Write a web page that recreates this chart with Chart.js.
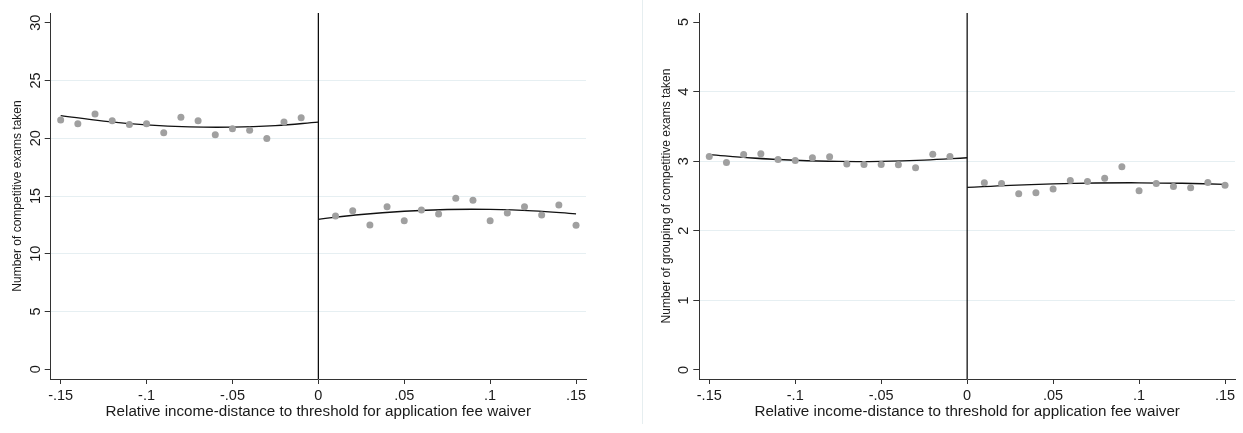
<!DOCTYPE html>
<html>
<head>
<meta charset="utf-8">
<script src="https://cdn.jsdelivr.net/npm/chart.js@4"></script>
<style>
  body { margin: 0; background: #fff; }
  #wrap { position: relative; width: 1243px; height: 433px; }
  canvas { position: absolute; top: 0; }
  #sep { position: absolute; left: 642px; top: 0; width: 1px; height: 424px; background: #e6eef0; }
</style>
</head>
<body>
<div id="wrap">
  <canvas id="exams" width="621" height="433" style="left:0"></canvas>
  <div id="sep"></div>
  <canvas id="groups" width="621" height="433" style="left:622px"></canvas>
</div>
<script>
// bins of relative income-distance (below / above the threshold)
const binsBelow = [-0.15, -0.14, -0.13, -0.12, -0.11, -0.10, -0.09, -0.08, -0.07, -0.06, -0.05, -0.04, -0.03, -0.02, -0.01];
const binsAbove = [0.01, 0.02, 0.03, 0.04, 0.05, 0.06, 0.07, 0.08, 0.09, 0.10, 0.11, 0.12, 0.13, 0.14, 0.15];
const fitXBelow = [-0.15, -0.125, -0.10, -0.075, -0.05, -0.025, 0];
const fitXAbove = [0, 0.025, 0.05, 0.075, 0.10, 0.125, 0.15];
const cutoff = 0;
const xTicks = [-0.15, -0.10, -0.05, 0, 0.05, 0.10, 0.15];

// left panel: number of competitive exams taken
const examsBelow = [21.58, 21.26, 22.10, 21.52, 21.18, 21.26, 20.48, 21.82, 21.52, 20.31, 20.83, 20.69, 19.97, 21.41, 21.78];
const examsAbove = [13.27, 13.73, 12.49, 14.07, 12.86, 13.79, 13.44, 14.80, 14.63, 12.86, 13.53, 14.07, 13.36, 14.22, 12.46];
const examsFitBelow = [21.96, 21.48, 21.15, 20.98, 20.96, 21.10, 21.39];
const examsFitAbove = [12.98, 13.40, 13.68, 13.83, 13.84, 13.72, 13.46];
const examsTicks = [0, 5, 10, 15, 20, 25, 30];

// right panel: number of grouping of competitive exams taken
const groupsBelow = [3.067, 2.98, 3.096, 3.106, 3.024, 3.01, 3.05, 3.063, 2.96, 2.953, 2.953, 2.948, 2.905, 3.10, 3.067];
const groupsAbove = [2.689, 2.68, 2.533, 2.547, 2.60, 2.723, 2.709, 2.756, 2.92, 2.576, 2.68, 2.637, 2.618, 2.694, 2.656];
const groupsFitBelow = [3.096, 3.046, 3.014, 2.997, 2.998, 3.016, 3.05];
const groupsFitAbove = [2.623, 2.654, 2.675, 2.687, 2.690, 2.683, 2.668];
const groupsTicks = [0, 1, 2, 3, 4, 5];

const xTitle = 'Relative income-distance to threshold for application fee waiver';
const FONT = '"Liberation Sans", Arial, sans-serif';
const pts = (xs, ys) => xs.map((x, i) => ({ x, y: ys[i] }));
const fmt = v => String(v).replace('0.', '.');

// cutoff line + rotated y tick labels (Stata style)
const stataBits = {
  id: 'stataBits',
  beforeDatasetsDraw(chart) {
    const { ctx, chartArea } = chart;
    const cx = chart.scales.x.getPixelForValue(cutoff);
    ctx.save();
    ctx.strokeStyle = '#000'; ctx.lineWidth = 1.2;
    ctx.beginPath(); ctx.moveTo(cx, chartArea.top); ctx.lineTo(cx, chartArea.bottom); ctx.stroke();
    ctx.restore();
  },
  afterDraw(chart) {
    const { ctx, chartArea } = chart;
    const y = chart.scales.y;
    ctx.save();
    ctx.fillStyle = '#1a1a1a'; ctx.font = '14.5px ' + FONT;
    ctx.textAlign = 'center'; ctx.textBaseline = 'alphabetic';
    y.ticks.forEach(t => {
      ctx.save();
      ctx.translate(chartArea.left - 11, y.getPixelForValue(t.value));
      ctx.rotate(-Math.PI / 2);
      ctx.fillText(fmt(t.value), 0, 0);
      ctx.restore();
    });
    ctx.restore();
  }
};

function buildPanel(id, p) {
  const yMax = p.yTicks[p.yTicks.length - 1];
  new Chart(document.getElementById(id), {
    data: { datasets: [
      { type: 'scatter', data: pts(binsBelow, p.below), backgroundColor: '#a0a0a0', borderWidth: 0, pointRadius: 3.5 },
      { type: 'scatter', data: pts(binsAbove, p.above), backgroundColor: '#a0a0a0', borderWidth: 0, pointRadius: 3.5 },
      { type: 'line', data: pts(fitXBelow, p.fitBelow), borderColor: '#111', borderWidth: 1.3, pointRadius: 0, tension: 0.4, fill: false },
      { type: 'line', data: pts(fitXAbove, p.fitAbove), borderColor: '#111', borderWidth: 1.3, pointRadius: 0, tension: 0.4, fill: false },
    ] },
    options: {
      responsive: false, animation: false, devicePixelRatio: 1,
      layout: { padding: { top: 13, right: p.padRight, left: 0, bottom: 0 } },
      plugins: { legend: { display: false }, tooltip: { enabled: false } },
      scales: {
        x: {
          type: 'linear', min: -0.1558, max: 0.1558,
          afterBuildTicks: s => { s.ticks = xTicks.map(v => ({ value: v })); },
          afterFit: s => { s.height = 54; },
          ticks: { callback: v => fmt(v), color: '#1a1a1a', font: { family: FONT, size: 14.5 }, padding: 3, maxRotation: 0 },
          grid: { drawOnChartArea: false, tickLength: 5, tickColor: '#333' },
          border: { color: '#333', width: 1 },
          title: { display: true, text: xTitle, color: '#1a1a1a', font: { family: FONT, size: 15.2 }, padding: { top: 0, bottom: 12.5 } }
        },
        y: {
          type: 'linear', min: p.yMin, max: p.yTop,
          afterBuildTicks: s => { s.ticks = p.yTicks.map(v => ({ value: v })); },
          afterFit: s => { s.width = p.yWidth; },
          ticks: { display: false },
          grid: {
            tickLength: 6, tickColor: '#333',
            color: c => (c.tick && (c.tick.value === 0 || c.tick.value === yMax)) ? 'rgba(0,0,0,0)' : '#e6eff2'
          },
          border: { color: '#333', width: 1 },
          title: { display: true, text: p.yTitle, color: '#1a1a1a', font: { family: FONT, size: 12 }, padding: { top: p.titlePad, bottom: 0 } }
        }
      }
    },
    plugins: [stataBits]
  });
}

buildPanel('exams', {
  below: examsBelow, above: examsAbove, fitBelow: examsFitBelow, fitAbove: examsFitAbove,
  yTicks: examsTicks, yMin: -0.84, yTop: 30.84, yTitle: 'Number of competitive exams taken',
  yWidth: 50.7, padRight: 35, titlePad: 10
});
buildPanel('groups', {
  below: groupsBelow, above: groupsAbove, fitBelow: groupsFitBelow, fitAbove: groupsFitAbove,
  yTicks: groupsTicks, yMin: -0.13, yTop: 5.13, yTitle: 'Number of grouping of competitive exams taken',
  yWidth: 77.3, padRight: 8, titlePad: 37
});
</script>
</body>
</html>
